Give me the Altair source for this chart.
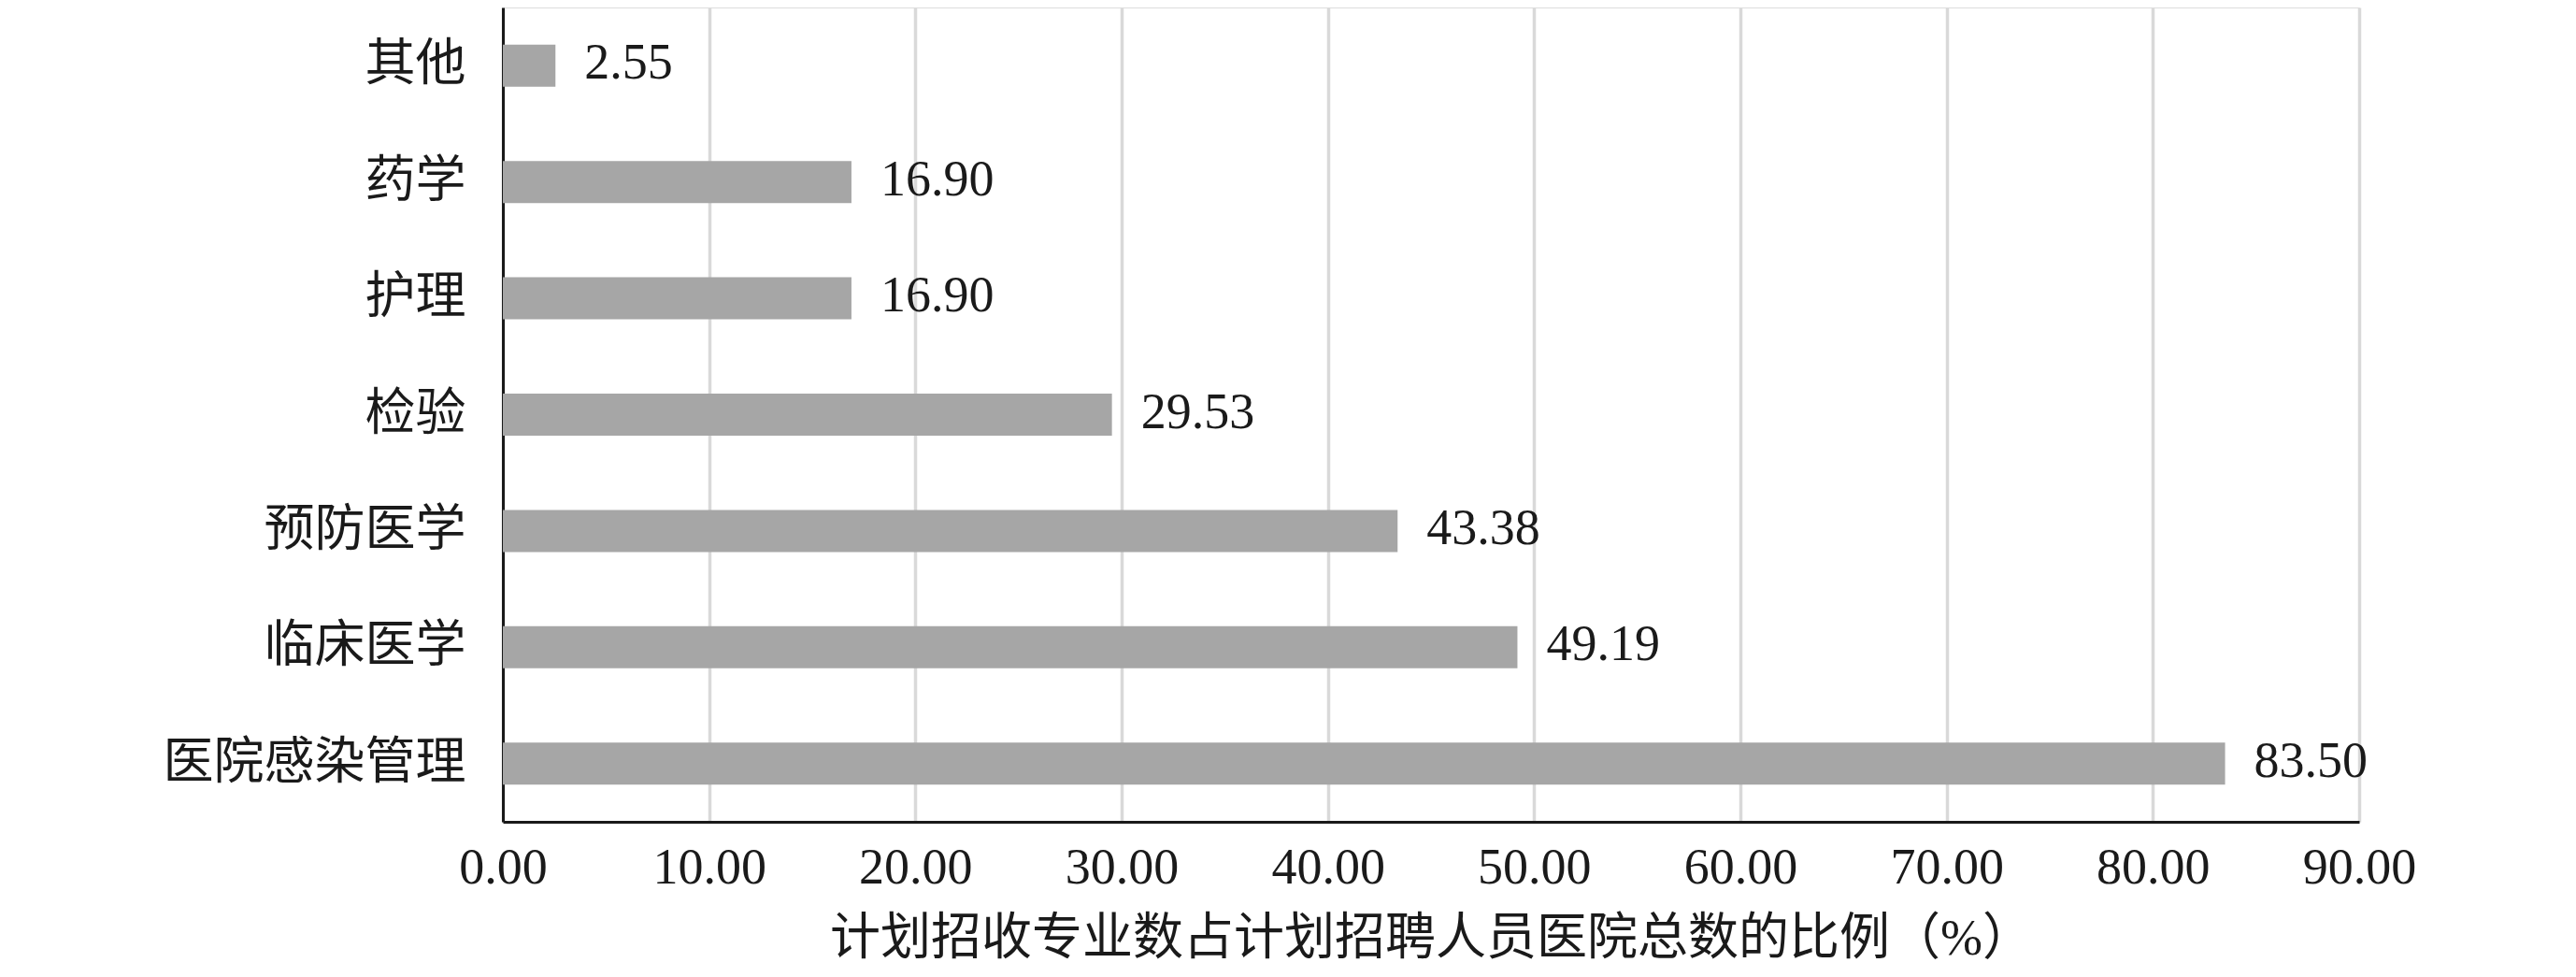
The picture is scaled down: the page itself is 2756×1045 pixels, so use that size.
import altair as alt
import pandas as pd

categories = ["其他", "药学", "护理", "检验", "预防医学", "临床医学", "医院感染管理"]
values = [2.55, 16.90, 16.90, 29.53, 43.38, 49.19, 83.50]
x_ticks = [0, 10, 20, 30, 40, 50, 60, 70, 80, 90]
x_title = "计划招收专业数占计划招聘人员医院总数的比例（%）"

df = pd.DataFrame({"cat": categories, "val": values})

FONT = "Liberation Serif, Times New Roman, Noto Sans CJK SC"
FS = 54

y_enc = alt.Y(
    "cat:N",
    sort=categories,
    scale=alt.Scale(paddingInner=0.5, paddingOuter=0.25),
    axis=alt.Axis(
        title=None,
        ticks=False,
        grid=False,
        labelPadding=40,
        labelLimit=0,
        labelFont=FONT,
        labelFontSize=FS,
        labelColor="#1a1a1a",
        domainColor="#1a1a1a",
        domainWidth=3,
    ),
)

x_enc = alt.X(
    "val:Q",
    scale=alt.Scale(domain=[0, 90], nice=False, zero=True),
    axis=alt.Axis(
        values=x_ticks,
        format=".2f",
        title=x_title,
        ticks=False,
        grid=True,
        gridColor="#d9d9d9",
        gridWidth=3.5,
        labelPadding=22,
        labelFont=FONT,
        labelFontSize=FS,
        labelColor="#1a1a1a",
        titleFont=FONT,
        titleFontSize=FS,
        titleFontWeight="normal",
        titleColor="#1a1a1a",
        titlePadding=22,
        titleLimit=0,
        domainColor="#1a1a1a",
        domainWidth=3,
        labelFlush=False,
    ),
)

bars = alt.Chart(df).mark_bar(color="#a6a6a6", size=45).encode(x=x_enc, y=y_enc)

labels = alt.Chart(df).mark_text(
    align="left",
    baseline="middle",
    dx=31,
    dy=-2,
    font=FONT,
    fontSize=FS,
    color="#1a1a1a",
).encode(
    x=alt.X("val:Q", scale=alt.Scale(domain=[0, 90], nice=False)),
    y=alt.Y("cat:N", sort=categories),
    text=alt.Text("val:Q", format=".2f"),
)

chart = (
    alt.layer(bars, labels)
    .properties(
        width=1986,
        height=871,
        autosize=alt.AutoSizeParams(type="none"),
        padding={"left": 530, "top": 0, "right": 200, "bottom": 158},
    )
    .configure_view(stroke=None)
    .configure(background="white")
)

chart.save("out.html", embed_options={"renderer": "svg", "actions": False})
